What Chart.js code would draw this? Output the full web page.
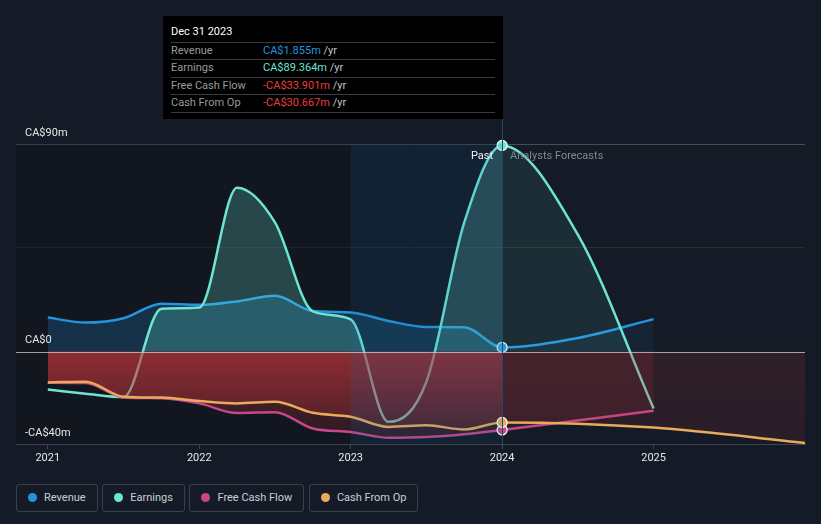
<!DOCTYPE html>
<html>
<head>
<meta charset="utf-8">
<script src="https://cdn.jsdelivr.net/npm/chart.js@4.4.0/dist/chart.umd.min.js"></script>
<style>
  html, body { margin: 0; padding: 0; background: #151b26; }
  body { width: 821px; height: 524px; position: relative; overflow: hidden; font-family: Roboto, "Noto Sans", sans-serif; }
  #wrap { position: absolute; left: 0; top: 0; width: 821px; height: 470px; }
  .tip { position: absolute; left: 163px; top: 16px; width: 340px; height: 103px; background: #000; font-size: 11px; }
  .tip .title { position: absolute; left: 8px; top: 9px; color: #fff; line-height: 14px; }
  .tip .row { position: absolute; left: 8px; width: 324px; height: 17px; border-top: 1px solid #3b3b3b; line-height: 16px; color: #9a9a9a; }
  .tip .row.last { border-bottom: 1px solid #3b3b3b; }
  .tip .val { position: absolute; left: 92px; top: 0; }
  .tip .unit { color: #c4c4c4; }
  .legend { position: absolute; left: 16px; top: 484px; display: flex; }
  .legend .item { position: relative; height: 26px; line-height: 25px; border: 1px solid #3a404b; border-radius: 3px; padding: 0 11px 0 27px; margin-right: 4.6px; color: #c9ced6; font-size: 11px; }
  .legend .dot { position: absolute; left: 11px; top: 8px; width: 9px; height: 9px; border-radius: 50%; }
</style>
</head>
<body>
<div id="wrap"><canvas id="chart" width="821" height="470"></canvas></div>
<div class="tip" id="tip"></div>
<div class="legend" id="legend"></div>
<script>
// quarterly reported values (CA$ millions)
const pastYears = [2021, 2021.25, 2021.5, 2021.75, 2022, 2022.25, 2022.5, 2022.75, 2023, 2023.25, 2023.5, 2023.75, 2024];
const revenuePast = [14.8, 12.6, 14.5, 20.8, 20.3, 21.8, 24.2, 17.6, 17.0, 13.3, 10.7, 10.6, 1.855];
const earningsPast = [-16.4, -18.2, -19.7, 18.6, 19.1, 71.0, 56.0, 17.5, 14.0, -30.4, -13.0, 56.0, 89.364];
const fcfPast = [-13.5, -13.6, -19.8, -20.2, -22.4, -26.6, -26.2, -33.3, -34.8, -37.3, -37.0, -35.8, -33.901];
const cfoPast = [-13.3, -13.0, -19.5, -19.9, -21.4, -22.4, -21.7, -26.5, -28.2, -32.6, -31.9, -33.7, -30.667];

// analyst forecasts
const revenueFcYears = [2024.5, 2025];
const revenueFc = [5.9, 14.1];
const earningsFcYears = [2024.5, 2025];
const earningsFc = [50.7, -24.6];
const fcfFcYears = [2025];
const fcfFc = [-25.6];
const cfoFcYears = [2025, 2026];
const cfoFc = [-32.9, -39.6];

const xTicks = [2021, 2022, 2023, 2024, 2025];
const yLabels = [90, 0, -40];
const yGrid = [90, 45];
const forecastStart = 2024;
const highlightStart = 2023;
const tooltipDate = 'Dec 31 2023';

const seriesNames = ['Revenue', 'Earnings', 'Free Cash Flow', 'Cash From Op'];
const seriesColors = ['#2394df', '#6ce5d3', '#c8468a', '#e9aa5c'];

function pts(xs, ys) {
  return xs.map((x, i) => ({ x: x, y: ys[i] }));
}

function money(v) {
  return (v < 0 ? '-' : '') + 'CA$' + Math.abs(v).toFixed(3) + 'm';
}

function axisLabel(v) {
  if (v === 0) return 'CA$0';
  return (v < 0 ? '-' : '') + 'CA$' + Math.abs(v) + 'm';
}

// gradients are cached so that segments sharing a style are filled in one piece
const gradCache = {};

function cached(chart, key, make) {
  const a = chart.chartArea;
  const sig = key + ':' + a.left + ',' + a.top + ',' + a.right + ',' + a.bottom;
  if (!gradCache[sig]) gradCache[sig] = make();
  return gradCache[sig];
}

function splitX(chart, past, future) {
  const { ctx, chartArea, scales } = chart;
  if (!chartArea) return past;
  return cached(chart, 'x' + past + future, () => {
    const x = scales.x.getPixelForValue(forecastStart);
    const t = Math.min(1, Math.max(0, (x - chartArea.left) / (chartArea.right - chartArea.left)));
    const g = ctx.createLinearGradient(chartArea.left, 0, chartArea.right, 0);
    g.addColorStop(0, past);
    g.addColorStop(t, past);
    g.addColorStop(t, future);
    g.addColorStop(1, future);
    return g;
  });
}

function downGrad(chart, top, bottom) {
  const { ctx, chartArea, scales } = chart;
  if (!chartArea) return top;
  return cached(chart, 'y' + top + bottom, () => {
    const g = ctx.createLinearGradient(0, scales.y.getPixelForValue(0), 0, chartArea.bottom);
    g.addColorStop(0, top);
    g.addColorStop(1, bottom);
    return g;
  });
}

function redFill(ctx) {
  if (ctx.p0.parsed.x >= forecastStart) {
    return downGrad(ctx.chart, 'rgba(205,55,60,0.15)', 'rgba(205,55,60,0.11)');
  }
  return downGrad(ctx.chart, 'rgba(205,55,60,0.42)', 'rgba(205,55,60,0.12)');
}

function markerRadius(ctx) {
  return ctx.raw && ctx.raw.x === forecastStart ? 5 : 0;
}

function lineSet(i, data, order, extra) {
  return Object.assign({
    label: seriesNames[i],
    data: data,
    order: order,
    borderColor: seriesColors[i],
    borderWidth: 2.5,
    cubicInterpolationMode: 'monotone',
    pointRadius: markerRadius,
    pointHoverRadius: 0,
    pointBackgroundColor: seriesColors[i],
    pointBorderColor: '#ffffff',
    pointBorderWidth: 1.2,
    clip: 8,
  }, extra);
}

const datasets = [
  lineSet(0, pts(pastYears, revenuePast).concat(pts(revenueFcYears, revenueFc)), 4, {
    fill: 'origin',
    backgroundColor: ctx => splitX(ctx.chart, 'rgba(35,148,223,0.22)', 'rgba(35,148,223,0.08)'),
  }),
  lineSet(1, pts(pastYears, earningsPast).concat(pts(earningsFcYears, earningsFc)), 3, {
    fill: { target: 'origin', below: 'rgba(0,0,0,0)' },
    backgroundColor: ctx => splitX(ctx.chart, 'rgba(108,229,211,0.24)', 'rgba(108,229,211,0.09)'),
  }),
  lineSet(2, pts(pastYears, fcfPast).concat(pts(fcfFcYears, fcfFc)), 2, {
    fill: 'origin',
    backgroundColor: 'rgba(205,55,60,0.3)',
    segment: { backgroundColor: redFill },
  }),
  lineSet(3, pts(pastYears, cfoPast).concat(pts(cfoFcYears, cfoFc)), 1, {
    fill: 'origin',
    backgroundColor: 'rgba(205,55,60,0.3)',
    segment: { backgroundColor: redFill },
  }),
];

const decor = {
  id: 'decor',
  beforeDatasetsDraw(chart) {
    const { ctx, chartArea: a, scales: { x } } = chart;
    const xf = x.getPixelForValue(forecastStart);
    ctx.save();
    ctx.fillStyle = 'rgba(0,0,0,0.18)';
    ctx.fillRect(a.left, a.top, xf - a.left, a.bottom - a.top);
    ctx.restore();
  },
  afterDatasetsDraw(chart) {
    const { ctx, chartArea: a, scales: { x, y } } = chart;
    const xh = x.getPixelForValue(highlightStart);
    const xf = x.getPixelForValue(forecastStart);
    ctx.save();
    // last-year highlight band
    ctx.fillStyle = 'rgba(30,105,165,0.15)';
    ctx.fillRect(xh, a.top, xf - xh, a.bottom - a.top);
    // zero line
    const y0 = Math.round(y.getPixelForValue(0)) + 0.5;
    ctx.strokeStyle = 'rgba(205,205,205,0.75)';
    ctx.lineWidth = 1.2;
    ctx.beginPath();
    ctx.moveTo(a.left, y0);
    ctx.lineTo(a.right, y0);
    ctx.stroke();
    // divider between past and forecast
    ctx.strokeStyle = '#21496a';
    ctx.lineWidth = 1;
    ctx.beginPath();
    ctx.moveTo(Math.round(xf) + 0.5, a.top - 25);
    ctx.lineTo(Math.round(xf) + 0.5, a.bottom);
    ctx.stroke();
    // axis value labels
    ctx.font = '11px Roboto, "Noto Sans", sans-serif';
    ctx.textBaseline = 'middle';
    ctx.textAlign = 'left';
    ctx.fillStyle = '#e6e6e6';
    yLabels.forEach(v => {
      ctx.fillText(axisLabel(v), a.left + 9, y.getPixelForValue(v) - 11);
    });
    ctx.textAlign = 'right';
    ctx.fillStyle = '#f2f2f2';
    ctx.fillText('Past', xf - 9, a.top + 12);
    ctx.textAlign = 'left';
    ctx.fillStyle = '#7f8691';
    ctx.fillText('Analysts Forecasts', xf + 8, a.top + 12);
    ctx.restore();
  },
};

new Chart(document.getElementById('chart'), {
  type: 'line',
  data: { datasets: datasets },
  options: {
    responsive: false,
    animation: false,
    devicePixelRatio: 1,
    events: [],
    layout: { padding: { left: 16, right: 16, top: 144, bottom: 0 } },
    plugins: { legend: { display: false }, tooltip: { enabled: false } },
    scales: {
      x: {
        type: 'linear',
        min: 2020.79,
        max: 2026,
        afterBuildTicks: s => { s.ticks = xTicks.map(v => ({ value: v })); },
        afterFit: s => { s.height = 26; },
        grid: { drawOnChartArea: false, color: '#3f4550', tickLength: 5 },
        border: { color: '#3f4550' },
        ticks: {
          color: '#e8e8e8',
          padding: 3,
          maxRotation: 0,
          font: { family: 'Roboto', size: 11 },
          callback: v => String(v),
        },
      },
      y: {
        min: -40,
        max: 90,
        afterBuildTicks: s => { s.ticks = yGrid.map(v => ({ value: v })); },
        afterFit: s => { s.width = 0; },
        border: { display: false },
        grid: {
          drawTicks: false,
          color: c => c.tick && c.tick.value === 90 ? '#474c56' : '#262c36',
        },
        ticks: { display: false },
      },
    },
  },
  plugins: [decor],
});

// tooltip box for the latest reported figures
const last = pastYears.length - 1;
const tipValues = [revenuePast[last], earningsPast[last], fcfPast[last], cfoPast[last]];
const tip = document.getElementById('tip');
let html = '<div class="title">' + tooltipDate + '</div>';
seriesNames.forEach((name, i) => {
  const v = tipValues[i];
  const col = v < 0 ? '#ee3d3a' : seriesColors[i];
  html += '<div class="row' + (i === seriesNames.length - 1 ? ' last' : '') + '" style="top:' + (25.5 + i * 17.5) + 'px">' +
    name + '<span class="val"><span style="color:' + col + '">' + money(v) + '</span> <span class="unit">/yr</span></span></div>';
});
tip.innerHTML = html;

const legend = document.getElementById('legend');
legend.innerHTML = seriesNames.map((name, i) =>
  '<div class="item"><span class="dot" style="background:' + seriesColors[i] + '"></span>' + name + '</div>'
).join('');
</script>
</body>
</html>
